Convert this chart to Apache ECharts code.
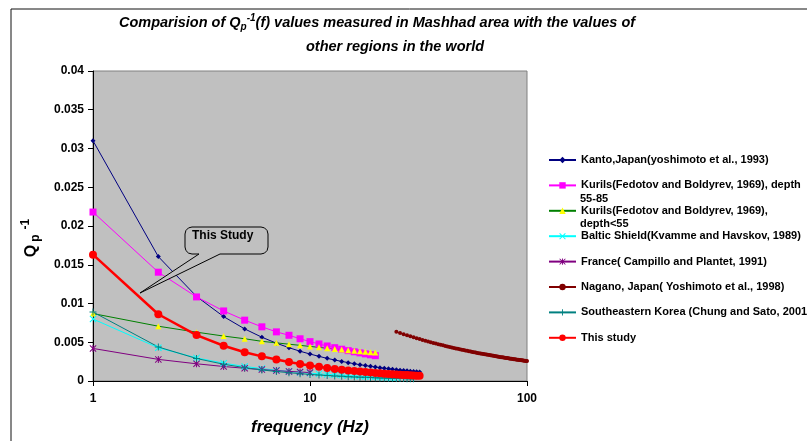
<!DOCTYPE html>
<html>
<head>
<meta charset="utf-8">
<script src="https://cdn.jsdelivr.net/npm/echarts@6/dist/echarts.min.js"></script>
<style>
  html, body { margin: 0; padding: 0; background: #fff; }
  #chart { width: 807px; height: 441px; }
</style>
</head>
<body>
<div id="chart"></div>
<script>
const font = "'Liberation Sans', Arial, sans-serif";

// frequencies (Hz)
const freq32 = [1, 2, 3, 4, 5, 6, 7, 8, 9, 10, 11, 12, 13, 14, 15, 16,
  17, 18, 19, 20, 21, 22, 23, 24, 25, 26, 27, 28, 29, 30, 31, 32];
const freqNagano = [25, 26, 27, 28, 29, 30, 31, 32, 33, 34, 35, 36, 37, 38, 39, 40,
  41, 42, 43, 44, 45, 46, 47, 48, 49, 50, 51, 52, 53, 54, 55, 56, 57, 58, 59, 60,
  61, 62, 63, 64, 65, 66, 67, 68, 69, 70, 71, 72, 73, 74, 75, 76, 77, 78, 79, 80,
  81, 82, 83, 84, 85, 86, 87, 88, 89, 90, 91, 92, 93, 94, 95, 96, 97, 98, 99, 100];

// Qp^-1 values
const kanto = [0.0310, 0.01605, 0.01091, 0.00831, 0.00672, 0.00565, 0.00488, 0.00430,
  0.00384, 0.00348, 0.00318, 0.00292, 0.00271, 0.00253, 0.00237, 0.00223, 0.00210,
  0.00199, 0.00189, 0.00180, 0.00172, 0.00164, 0.00158, 0.00151, 0.00146, 0.00140,
  0.00135, 0.00131, 0.00126, 0.00122, 0.00119, 0.00115];
const kurilsDeep = [0.0218, 0.01404, 0.01085, 0.00904, 0.00785, 0.00699, 0.00634,
  0.00590, 0.00545, 0.00508, 0.00478, 0.00452, 0.00430, 0.00410, 0.00392, 0.00377,
  0.00363, 0.00350, 0.00338, 0.00327];
const kurilsShallow = [0.0087, 0.00707, 0.00630, 0.00580, 0.00545, 0.00512, 0.00492,
  0.00475, 0.00460, 0.00446, 0.00434, 0.00423, 0.00414, 0.00405, 0.00397, 0.00390,
  0.00384, 0.00378, 0.00372, 0.00367];
const baltic = [0.0080, 0.00429, 0.00298, 0.00230, 0.00188, 0.00160, 0.00139, 0.00123,
  0.00111, 0.00101, 0.00092, 0.00085, 0.00080, 0.00074, 0.00070, 0.00066, 0.00062,
  0.00059, 0.00057, 0.00054, 0.00052, 0.00050, 0.00048, 0.00046, 0.00044];
const france = [0.0042, 0.00279, 0.00222, 0.00187, 0.00164, 0.00147, 0.00134, 0.00124,
  0.00116, 0.00109];
const nagano = [0.006348, 0.006187, 0.006037, 0.005896, 0.005763, 0.005637, 0.005518,
  0.005405, 0.005298, 0.005196, 0.005099, 0.005006, 0.004918, 0.004833, 0.004752,
  0.004674, 0.004600, 0.004528, 0.004460, 0.004393, 0.004329, 0.004268, 0.004209,
  0.004151, 0.004096, 0.004043, 0.003991, 0.003941, 0.003892, 0.003845, 0.003799,
  0.003755, 0.003712, 0.003670, 0.003629, 0.003590, 0.003552, 0.003515, 0.003478,
  0.003443, 0.003408, 0.003374, 0.003341, 0.003309, 0.003278, 0.003247, 0.003217,
  0.003188, 0.003160, 0.003132, 0.003105, 0.003078, 0.003052, 0.003026, 0.003002,
  0.002977, 0.002953, 0.002929, 0.002907, 0.002884, 0.002862, 0.002840, 0.002819,
  0.002798, 0.002778, 0.002758, 0.002738, 0.002718, 0.002699, 0.002681, 0.002662,
  0.002644, 0.002627, 0.002609, 0.002592, 0.002575];
const korea = [0.0089, 0.00439, 0.00290, 0.00216, 0.00172, 0.00143, 0.00122, 0.00107,
  0.00095, 0.00085, 0.00077, 0.00071, 0.00065, 0.00060, 0.00056, 0.00053, 0.00049,
  0.00047, 0.00044, 0.00042, 0.00040, 0.00038, 0.00036, 0.00035, 0.00033, 0.00032,
  0.00031, 0.00030, 0.00029, 0.00028];
const thisStudy = [0.0163, 0.00861, 0.00593, 0.00455, 0.00371, 0.00318, 0.00278,
  0.00245, 0.00220, 0.00200, 0.00183, 0.00168, 0.00156, 0.00145, 0.00136, 0.00128,
  0.00121, 0.00115, 0.00109, 0.00104, 0.00099, 0.00095, 0.00091, 0.00088, 0.00084,
  0.00081, 0.00079, 0.00076, 0.00074, 0.00071, 0.00069, 0.00067];

const yTicks = [0, 0.005, 0.01, 0.015, 0.02, 0.025, 0.03, 0.035, 0.04];
const xTicks = [1, 10, 100];

const names = [
  "Kanto,Japan(yoshimoto et al., 1993)",
  "Kurils(Fedotov and Boldyrev, 1969), depth\n55-85",
  "Kurils(Fedotov and Boldyrev, 1969),\ndepth<55",
  "Baltic Shield(Kvamme and Havskov, 1989)",
  "France( Campillo and Plantet, 1991)",
  "Nagano, Japan( Yoshimoto et al., 1998)",
  "Southeastern Korea (Chung and Sato, 2001)",
  "This study"
];

const xMark = "path://M0,1L1,0L5,4L9,0L10,1L6,5L10,9L9,10L5,6L1,10L0,9L4,5Z";
const starMark = "path://M0,1L1,0L5,4L9,0L10,1L6,5L10,9L9,10L5,6L1,10L0,9L4,5Z M4.3,0L5.7,0L5.7,10L4.3,10Z";
const plusMark = "path://M4.3,0L5.7,0L5.7,4.3L10,4.3L10,5.7L5.7,5.7L5.7,10L4.3,10L4.3,5.7L0,5.7L0,4.3L4.3,4.3Z";

// callout outline (rounded box with a tail pointing at the red curve)
const calloutPoints = [
  [185, 234], [185.9, 230.5], [188.5, 227.9], [192, 227],
  [261, 227], [264.5, 227.9], [267.1, 230.5], [268, 234],
  [268, 247], [267.1, 250.5], [264.5, 253.1], [261, 254],
  [220, 254], [140, 293], [199, 254],
  [192, 254], [188.5, 253.1], [185.9, 250.5], [185, 247]
];

function pairs(freqs, vals) {
  return vals.map((v, i) => [freqs[i], v]);
}

function lineSeries(name, data, color, symbol, size, width, symColor) {
  return {
    type: "line",
    name: name,
    data: data,
    symbol: symbol,
    symbolSize: size,
    lineStyle: { color: color, width: width },
    itemStyle: { color: symColor || color },
    emphasis: { disabled: true },
  };
}

const titleRich = {
  t: { fontSize: 14.5, fontWeight: "bold", fontStyle: "italic", fontFamily: font, color: "#000" },
  sub: { fontSize: 10, fontWeight: "bold", fontStyle: "italic", fontFamily: font, color: "#000", padding: [8, 0, 0, 0] },
  sup: { fontSize: 10, fontWeight: "bold", fontStyle: "italic", fontFamily: font, color: "#000", padding: [0, 0, 10, 0] },
};

const chart = echarts.init(document.getElementById("chart"));

chart.setOption({
  animation: false,
  textStyle: { fontFamily: font },
  title: [
    {
      left: 377,
      top: 13,
      textAlign: "center",
      padding: 0,
      text: "{t|Comparision of Q}{sub|p}{sup|-1}{t|(f) values measured in Mashhad area with the values of}",
      textStyle: { rich: titleRich },
    },
    {
      left: 395,
      top: 39,
      textAlign: "center",
      padding: 0,
      text: "{t|other regions in the world}",
      textStyle: { rich: titleRich },
    },
  ],
  grid: {
    left: 93,
    top: 71,
    right: 280,
    bottom: 58,
    show: true,
    backgroundColor: "#C0C0C0",
    borderColor: "#808080",
    borderWidth: 1,
  },
  legend: {
    orient: "vertical",
    left: 548,
    top: 153,
    padding: 0,
    itemWidth: 27,
    itemHeight: 8,
    itemGap: 11.4,
    data: names,
    formatter: (name) => name.split("\n")[0],
    textStyle: { fontSize: 11, fontWeight: "bold", fontFamily: font, color: "#000", lineHeight: 14 },
  },
  xAxis: {
    type: "log",
    logBase: 10,
    min: xTicks[0],
    max: xTicks[xTicks.length - 1],
    name: "frequency (Hz)",
    nameLocation: "middle",
    nameGap: 38,
    nameTextStyle: { fontSize: 17, fontWeight: "bold", fontStyle: "italic", color: "#000", fontFamily: font },
    axisLine: { lineStyle: { color: "#000", width: 1 } },
    axisTick: { show: true, length: 5, lineStyle: { color: "#000" } },
    minorTick: { show: false },
    splitLine: { show: false },
    axisLabel: { fontSize: 12, fontWeight: "bold", color: "#000", margin: 12 },
  },
  yAxis: {
    type: "value",
    min: yTicks[0],
    max: yTicks[yTicks.length - 1],
    interval: 0.005,
    name: "{q|Q}{sub|p}{sup|-1}",
    nameLocation: "middle",
    nameRotate: 90,
    nameGap: 49,
    nameTextStyle: {
      padding: [0, 24, 0, 0],
      rich: {
        q: { fontSize: 16, fontWeight: "bold", color: "#000", fontFamily: font },
        sub: { fontSize: 12, fontWeight: "bold", color: "#000", fontFamily: font, padding: [8, 5, 0, 3] },
        sup: { fontSize: 12, fontWeight: "bold", color: "#000", fontFamily: font, padding: [0, 0, 12, 0] },
      },
    },
    axisLine: { show: true, lineStyle: { color: "#000", width: 1 } },
    axisTick: { show: true, length: 5, lineStyle: { color: "#000" } },
    splitLine: { show: false },
    axisLabel: { fontSize: 12, fontWeight: "bold", color: "#000", margin: 9 },
  },
  series: [
    lineSeries(names[0], pairs(freq32, kanto), "#000080", "diamond", 5, 1),
    lineSeries(names[1], pairs(freq32, kurilsDeep), "#FF00FF", "rect", 7, 1),
    lineSeries(names[2], pairs(freq32, kurilsShallow), "#008000", "triangle", 6, 1, "#FFFF00"),
    lineSeries(names[3], pairs(freq32, baltic), "#00FFFF", xMark, 7, 1),
    lineSeries(names[4], pairs(freq32, france), "#800080", starMark, 7, 1),
    lineSeries(names[5], pairs(freqNagano, nagano), "#800000", "circle", 4, 1),
    lineSeries(names[6], pairs(freq32, korea), "#008080", plusMark, 7, 1),
    lineSeries(names[7], pairs(freq32, thisStudy), "#FF0000", "circle", 8, 2.5),
  ],
  graphic: [
    {
      type: "rect",
      silent: true,
      z: -1,
      shape: { x: 11, y: 9, width: 900, height: 500 },
      style: { fill: "none", stroke: "#111", lineWidth: 1 },
    },
    {
      type: "polygon",
      silent: true,
      z: 100,
      shape: { points: calloutPoints },
      style: { fill: "#C0C0C0", stroke: "#000", lineWidth: 1 },
    },
    {
      type: "text",
      silent: true,
      z: 101,
      left: 192,
      top: 230,
      style: { text: "This Study", fontSize: 12, fontWeight: "bold", fontFamily: font, fill: "#000" },
    },
    {
      type: "text",
      silent: true,
      left: 580,
      top: 193,
      style: { text: names[1].split("\n")[1], fontSize: 11, fontWeight: "bold", fontFamily: font, fill: "#000" },
    },
    {
      type: "text",
      silent: true,
      left: 580,
      top: 218,
      style: { text: names[2].split("\n")[1], fontSize: 11, fontWeight: "bold", fontFamily: font, fill: "#000" },
    },
  ],
});
</script>
</body>
</html>
